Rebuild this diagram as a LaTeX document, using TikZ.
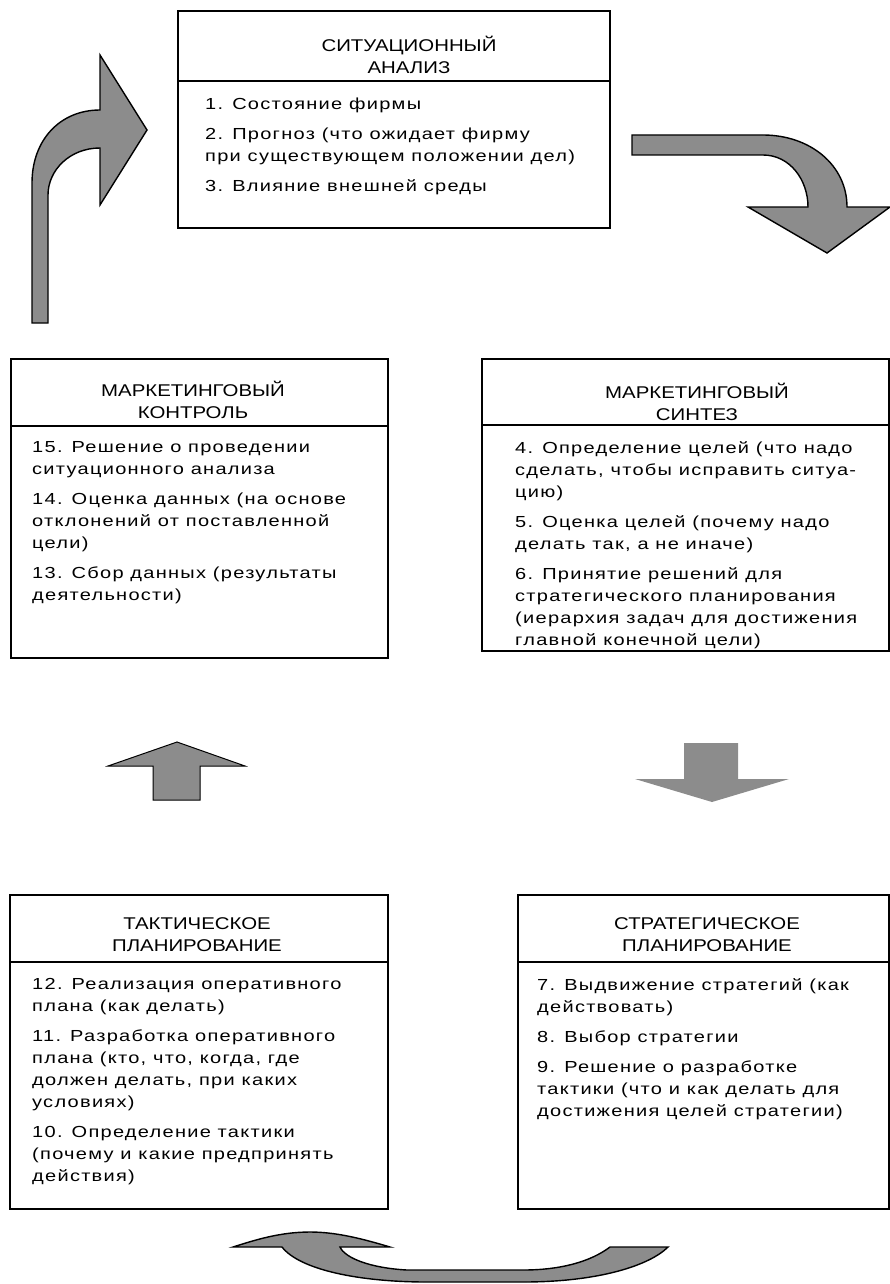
\documentclass[tikz,border=0pt]{standalone}
\usepackage{fontspec}
\setmainfont{Liberation Sans}[FakeStretch=1.2]
\newfontfamily\bodyfont{Liberation Sans}[FakeStretch=1.25, LetterSpace=8]
\usetikzlibrary{positioning}
\definecolor{arrowgray}{RGB}{140,140,140}

\begin{document}
\begin{tikzpicture}[x=1pt, y=-1pt,
  frame/.style={draw, line width=2.4pt, inner sep=0pt, anchor=north west},
  title/.style={anchor=north, align=center, inner sep=0pt, font=\fontsize{17}{22}\selectfont},
  body/.style={anchor=north west, align=left, inner sep=0pt, font=\bodyfont\fontsize{16}{22}\selectfont},
  divider/.style={line width=1.2pt},
  blockarrow/.style={fill=arrowgray, draw=black, line width=1.4pt}]
\useasboundingbox (0,0) rectangle (890,1284);

% boxes
\node[frame, minimum width=432pt, minimum height=217pt] (sit)   at (177,10)  {};
\node[frame, minimum width=377pt, minimum height=299pt] (ctrl)  at (10,358)  {};
\node[frame, minimum width=407pt, minimum height=292pt] (synth) at (481,358) {};
\node[frame, minimum width=378pt, minimum height=314pt] (tact)  at (9,894)   {};
\node[frame, minimum width=371pt, minimum height=314pt] (strat) at (517,894) {};

\draw[divider] ([yshift=-71pt]sit.north west)   -- ([yshift=-71pt]sit.north east);
\draw[divider] ([yshift=-68pt]ctrl.north west)  -- ([yshift=-68pt]ctrl.north east);
\draw[divider] ([yshift=-67pt]synth.north west) -- ([yshift=-67pt]synth.north east);
\draw[divider] ([yshift=-68pt]tact.north west)  -- ([yshift=-68pt]tact.north east);
\draw[divider] ([yshift=-68pt]strat.north west) -- ([yshift=-68pt]strat.north east);

% titles
\node[title] (sitT)   at (409,35.5)  {СИТУАЦИОННЫЙ\\АНАЛИЗ};
\node[title] (ctrlT)  at (193,380.5) {МАРКЕТИНГОВЫЙ\\КОНТРОЛЬ};
\node[title] (synthT) at (697,382.5) {МАРКЕТИНГОВЫЙ\\СИНТЕЗ};
\node[title] (tactT)  at (197,917.5) {ТАКТИЧЕСКОЕ\\ПЛАНИРОВАНИЕ};
\node[title] (stratT) at (707,917.5) {СТРАТЕГИЧЕСКОЕ\\ПЛАНИРОВАНИЕ};

% texts
\node[body] (sitB) at (205,98) {1. Состояние фирмы\\[8pt]
  2. Прогноз (что ожидает фирму\\при существующем положении дел)\\[8pt]
  3. Влияние внешней среды};
\node[body] (ctrlB) at (32,441) {15. Решение о проведении\\ситуационного анализа\\[8pt]
  14. Оценка данных (на основе\\отклонений от поставленной\\цели)\\[8pt]
  13. Сбор данных (результаты\\деятельности)};
\node[body] (synthB) at (515,441) {4. Определение целей (что надо\\сделать, чтобы исправить ситуа-\\цию)\\[8pt]
  5. Оценка целей (почему надо\\делать так, а не иначе)\\[8pt]
  6. Принятие решений для\\стратегического планирования\\(иерархия задач для достижения\\главной конечной цели)};
\node[body] (tactB) at (32,978) {12. Реализация оперативного\\плана (как делать)\\[8pt]
  11. Разработка оперативного\\плана (кто, что, когда, где\\должен делать, при каких\\условиях)\\[8pt]
  10. Определение тактики\\(почему и какие предпринять\\действия)};
\node[body] (stratB) at (537,978) {7. Выдвижение стратегий (как\\действовать)\\[8pt]
  8. Выбор стратегии\\[8pt]
  9. Решение о разработке\\тактики (что и как делать для\\достижения целей стратегии)};

% arrows
\draw[blockarrow] (32,323) -- (32,183) .. controls (32,140) and (60,110) .. (100,110)
  -- (100,55) -- (147,130) -- (100,205) -- (100,148)
  .. controls (70,148) and (48,170) .. (48,195) -- (48,323) -- cycle;
\draw[blockarrow] (632,135) -- (763,135) .. controls (810,135) and (847,165) .. (847,207)
  -- (890,207) -- (827,253) -- (748,207) -- (808,207)
  .. controls (808,180) and (790,155) .. (763,155) -- (632,155) -- cycle;
\draw[blockarrow, line width=1pt] (153,800) -- (153,766) -- (108,766) -- (177,742)
  -- (245,766) -- (200,766) -- (200,800) -- cycle;
\fill[arrowgray] (684,743) -- (738,743) -- (738,779) -- (789,779) -- (712,802)
  -- (635,779) -- (684,779) -- cycle;
\draw[blockarrow] (233,1247) -- (282,1247) .. controls (300,1270) and (360,1282) .. (427,1282)
  -- (523,1282) .. controls (600,1282) and (650,1265) .. (668,1247) -- (610,1247)
  .. controls (590,1262) and (560,1270) .. (523,1270) -- (407,1270)
  .. controls (370,1268) and (345,1258) .. (340,1247) -- (390,1247)
  .. controls (360,1238) and (335,1232) .. (310,1232)
  .. controls (280,1232) and (255,1240) .. (233,1247) -- cycle;
\end{tikzpicture}
\end{document}
